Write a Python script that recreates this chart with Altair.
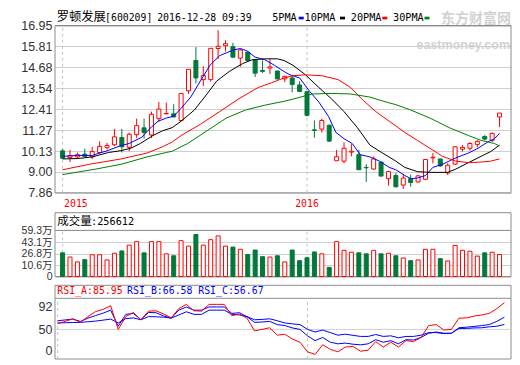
import altair as alt
import pandas as pd

# ---------------- data ----------------
stock_name = "罗顿发展"
stock_code = "[600209]"
stock_time = "2016-12-28 09:39"

opens = [10.14, 9.77, 9.81, 9.96, 9.81, 10.05, 10.31, 10.47, 10.86, 10.33,
         11.02, 11.39, 11.00, 11.89, 12.15, 12.15, 11.79, 13.40, 15.05, 14.01,
         14.01, 15.70, 15.85, 15.80, 15.18, 15.50, 15.09, 14.51, 14.64, 14.48,
         14.05, 14.10, 13.72, 13.35, 11.28, 11.32, 11.53, 9.60, 9.58, 10.07,
         9.93, 9.24, 9.15, 9.53, 8.63, 8.80, 8.28, 8.63, 8.45, 8.59,
         9.76, 9.70, 8.94, 9.42, 10.23, 10.28, 10.49, 10.92, 10.71, 11.98]
highs = [10.24, 10.19, 10.05, 10.26, 10.36, 10.66, 10.57, 11.33, 11.33, 11.13,
         11.89, 11.89, 12.27, 12.79, 12.76, 12.67, 13.26, 14.57, 15.78, 14.74,
         15.71, 16.70, 16.15, 16.01, 15.70, 15.54, 15.09, 15.05, 15.12, 14.48,
         14.22, 14.27, 13.93, 13.40, 11.79, 11.89, 11.58, 10.19, 10.61, 10.50,
         10.19, 9.42, 9.84, 9.53, 9.06, 8.94, 8.89, 8.85, 8.83, 9.67,
         10.02, 9.70, 9.46, 10.39, 10.45, 10.62, 10.71, 10.99, 11.14, 12.19]
lows = [9.70, 9.53, 9.70, 9.79, 9.70, 10.00, 10.22, 10.40, 10.05, 10.12,
        10.85, 10.80, 10.83, 11.72, 12.13, 11.98, 11.79, 13.23, 13.80, 13.66,
        13.90, 15.14, 15.54, 15.19, 14.71, 14.97, 14.15, 14.36, 14.32, 14.01,
        13.87, 13.32, 13.32, 12.01, 10.85, 11.13, 10.62, 9.60, 9.46, 9.84,
        9.11, 8.45, 9.11, 8.75, 8.25, 8.14, 8.07, 8.19, 8.42, 8.55,
        9.46, 9.27, 8.83, 9.37, 10.10, 10.15, 10.33, 10.71, 10.62, 11.44]
closes = [9.74, 9.88, 9.93, 9.84, 10.10, 10.38, 10.43, 10.90, 10.36, 11.04,
          11.51, 11.14, 12.13, 12.41, 12.17, 11.98, 13.26, 14.57, 14.10, 14.24,
          15.71, 15.82, 15.96, 15.23, 15.62, 15.05, 14.36, 14.46, 14.70, 14.05,
          14.19, 13.75, 13.37, 12.07, 11.25, 11.79, 10.67, 9.82, 10.28, 10.12,
          9.11, 9.22, 9.70, 8.77, 9.01, 8.19, 8.66, 8.42, 8.78, 9.67,
          9.79, 9.32, 9.36, 10.36, 10.33, 10.54, 10.66, 10.78, 11.09, 12.19]

# volume in 万 (10k shares)
volumes = [28.1, 22.2, 15.5, 18.6, 25.4, 25.4, 18.2, 27.5, 30.7, 38.8,
           43.7, 28.1, 43.7, 43.7, 26.7, 24.0, 45.0, 37.4, 53.6, 38.8,
           46.4, 51.7, 37.4, 36.1, 33.0, 25.8, 32.0, 22.7, 22.2, 24.0,
           15.5, 32.0, 17.2, 21.3, 29.3, 26.7, 7.9, 43.7, 31.6, 28.9,
           28.1, 26.7, 31.6, 26.7, 27.5, 24.0, 20.9, 17.2, 18.2, 33.0,
           33.0, 20.0, 16.8, 38.3, 31.6, 30.3, 23.5, 28.1, 28.9, 25.66]
vol_latest = 256612

ma_names = ["5PMA", "10PMA", "20PMA", "30PMA"]
ma5_x = [0, 2, 4, 5, 6, 7.7, 9, 10.7, 12, 12.9, 14, 15, 16, 17.3, 18.6, 19.9, 21.2, 23,
         24, 24.9, 26, 27.3, 28.6, 29.9, 30.7, 32, 33.3, 34.6, 35.9, 36.9, 38, 39.1,
         40.2, 41.5, 42.8, 44.1, 45, 46.2, 47, 47.9, 49, 50, 51.3, 53.1, 54.8, 56.1,
         57.4, 58.3, 59]
ma5_y = [9.84, 9.89, 9.89, 10.02, 10.14, 10.40, 10.54, 10.88, 11.44, 11.75, 11.92, 12.02,
         12.45, 13.06, 13.93, 14.79, 15.31, 15.61, 15.70, 15.57, 15.23, 15.09, 14.79,
         14.45, 14.27, 14.10, 13.40, 12.79, 12.01, 11.14, 10.80, 10.54, 9.93, 9.81,
         9.58, 9.24, 9.11, 8.80, 8.63, 8.66, 8.80, 9.24, 9.41, 9.76, 10.02, 10.28,
         10.62, 10.80, 11.09]
ma10_x = [0, 2, 4, 6.2, 7.9, 9.2, 10.5, 12.2, 13.5, 14.8, 16, 17.8, 19.5, 20.8, 22.5,
          24.3, 25.6, 27.3, 29, 29.9, 31.1, 32.8, 34.6, 36.3, 38, 39.8, 41.5, 43.2,
          45, 46.2, 47.9, 49.6, 52, 53.1, 54.8, 56.5, 57.8, 59]
ma10_y = [9.70, 9.72, 9.81, 10.05, 10.15, 10.28, 10.54, 10.97, 11.23, 11.40, 11.75,
          12.36, 13.23, 13.93, 14.45, 14.88, 15.09, 15.14, 15.14, 15.05, 14.79, 14.27,
          13.58, 12.97, 12.27, 11.40, 10.45, 10.02, 9.58, 9.24, 9.01, 8.97, 8.97,
          9.15, 9.50, 9.84, 10.10, 10.45]
ma20_x = [0, 3.6, 7.9, 11.4, 13.5, 14.8, 16, 18.6, 21.2, 23.8, 26.4, 28.2, 29.9, 31.1,
          32.8, 35, 37.2, 38.9, 40.6, 42.3, 44.1, 45, 46.2, 47.9, 49.6, 51.3, 53.1,
          54.8, 56.5, 57.8, 59]
ma20_y = [9.11, 9.41, 9.70, 10.02, 10.36, 10.62, 10.97, 11.58, 12.27, 12.97, 13.58,
          13.84, 14.10, 14.22, 14.27, 14.22, 14.01, 13.58, 12.88, 12.27, 11.75, 11.49,
          11.14, 10.71, 10.28, 9.84, 9.58, 9.50, 9.53, 9.58, 9.70]
ma30_x = [0, 4.5, 7.9, 11.4, 14, 14.8, 16.9, 19.5, 22.1, 24.7, 27.3, 29.9, 31.1, 33.7,
          36.3, 38.9, 41.5, 43.7, 45, 47, 49.6, 52.2, 54.8, 56.5, 58.3, 59]
ma30_y = [8.85, 9.15, 9.41, 9.81, 10.05, 10.12, 10.54, 11.23, 11.92, 12.36, 12.62,
          12.83, 12.95, 13.23, 13.26, 13.23, 13.06, 12.79, 12.65, 12.36, 11.92, 11.40,
          10.97, 10.71, 10.54, 10.40]

rsi_names = ["RSI_A", "RSI_B", "RSI_C"]
rsi_latest = [85.95, 66.58, 56.67]
rsi_a = [57.8, 60.8, 64.3, 59.5, 67.3, 74.0, 77.0, 82.0, 50.0, 67.3,
         72.9, 63.0, 74.7, 75.1, 70.8, 65.6, 78.1, 83.8, 75.1, 74.7,
         83.8, 83.8, 83.8, 68.5, 70.8, 65.2, 48.0, 50.0, 52.2, 42.2,
         43.5, 37.0, 32.7, 19.7, 16.2, 29.2, 23.2, 19.7, 26.2, 27.0,
         20.6, 21.9, 33.5, 26.2, 32.7, 26.2, 34.8, 33.5, 39.2, 55.2,
         56.5, 49.1, 50.0, 65.2, 65.5, 68.0, 69.5, 71.6, 78.1, 85.95]
rsi_b = [61.7, 62.8, 63.9, 60.8, 65.2, 68.6, 72.0, 76.0, 54.3, 70.3,
         71.6, 63.0, 72.9, 72.5, 68.2, 65.2, 76.0, 80.3, 76.0, 76.0,
         80.3, 80.3, 80.3, 71.6, 72.5, 67.3, 59.5, 60.0, 60.8, 56.5,
         55.2, 52.0, 50.0, 41.3, 34.8, 39.2, 32.7, 30.5, 31.5, 30.0,
         29.2, 30.5, 36.1, 32.7, 34.8, 30.5, 36.1, 35.7, 39.2, 44.8,
         46.5, 44.8, 44.8, 52.2, 53.0, 54.0, 55.2, 56.5, 60.8, 66.58]
rsi_c = [58.7, 59.0, 59.3, 59.5, 60.3, 61.2, 62.5, 63.9, 58.7, 64.5,
         65.5, 63.0, 67.3, 67.0, 66.5, 65.2, 69.5, 73.8, 70.3, 70.3,
         76.0, 76.0, 76.0, 70.5, 69.5, 67.3, 63.0, 63.5, 64.3, 61.7,
         58.7, 57.5, 56.5, 50.0, 46.5, 49.1, 45.7, 42.2, 43.5, 42.0,
         40.5, 40.5, 43.1, 40.5, 41.3, 38.7, 40.5, 40.5, 42.2, 45.7,
         45.7, 44.4, 44.8, 51.3, 51.3, 52.0, 52.2, 53.5, 54.3, 56.67]

price_ticks = [7.86, 9.00, 10.13, 11.27, 12.41, 13.54, 14.68, 15.81, 16.95]
vol_ticks = [10.6, 26.8, 43.1, 59.3]
vol_floor = -4.85          # value at the bottom edge of the volume panel (labelled "0")
rsi_mid, rsi_top = 50, 92
years = ["2015", "2016"]
year_start = [0, 33]

# ---------------- styling / layout ----------------
RED, GREEN, BLUE = "#ff0000", "#03783b", "#0000ff"
MA_COLORS = ["#0000ff", "#000000", "#ff0000", "#008000"]
BORDER, GRID, DASH = "#8c8c8c", "#cfcfcf", "#c4c4c4"
LAB_FONT = "Liberation Sans, Noto Sans CJK SC"
CJK = "Noto Sans CJK SC"
MONO = "DejaVu Sans Mono"
W, AXW = 456, 47
xs = alt.Scale(domain=[-0.35, 59.87], nice=False, zero=False)
N = len(closes)


def yaxis(values, fmt=None, expr=None, grid=True, size=12.5):
    kw = dict(values=values, title=None, grid=grid, gridColor=GRID, gridWidth=1,
              domain=False, ticks=False, tickSize=0, labelPadding=3, labelFont=LAB_FONT,
              labelFontSize=size, labelColor="#333333", labelOverlap=False,
              minExtent=AXW, maxExtent=AXW)
    if fmt:
        kw["format"] = fmt
    if expr:
        kw["labelExpr"] = expr
    return alt.Axis(**kw)


def txt(text, x, y, size, font, color="#000000", align="left", baseline="alphabetic", bold=False):
    m = dict(align=align, baseline=baseline, fontSize=size, font=font, color=color)
    if bold:
        m["fontWeight"] = "bold"
    return alt.Chart(pd.DataFrame({"t": [text]})).mark_text(**m).encode(
        x=alt.value(x), y=alt.value(y), text="t:N")


up_fill = alt.when(alt.datum.d == "up").then(alt.value("#ffffff")).otherwise(alt.value(GREEN))
up_stroke = alt.when(alt.datum.d == "up").then(alt.value(RED)).otherwise(alt.value(GREEN))

cdf = pd.DataFrame({"i": list(range(N)), "o": opens, "h": highs, "l": lows, "c": closes,
                    "v": volumes})
cdf["d"] = ["up" if c >= o else "down" for o, c in zip(opens, closes)]
X = alt.X("i:Q", scale=xs, axis=None)

# ---------------- panel A : price ----------------
HA, A_TOP, A_BOT = 201, 17.5, 184.8
pA = (A_BOT - A_TOP) / (price_ticks[-1] - price_ticks[0])
ysA = alt.Scale(domain=[price_ticks[0] - (HA - A_BOT) / pA, price_ticks[-1] + A_TOP / pA],
                nice=False, zero=False)
axA = yaxis(price_ticks, fmt=".2f")

boxA = alt.Chart(pd.DataFrame({"lo": [price_ticks[0]], "hi": [price_ticks[-1]]})).mark_rect(
    fill="#ffffff", fillOpacity=0, stroke=BORDER, strokeWidth=1).encode(
    x=alt.value(0), x2=alt.value(W), y=alt.Y("lo:Q", scale=ysA, axis=axA), y2="hi:Q")
dashA = alt.Chart(pd.DataFrame({"i": year_start, "lo": price_ticks[0], "hi": price_ticks[-1]})
                  ).mark_rule(color=DASH, strokeDash=[3, 3]).encode(
    x=X, y=alt.Y("lo:Q", scale=ysA, axis=axA), y2="hi:Q")
wick = alt.Chart(cdf).mark_rule(strokeWidth=1).encode(
    x=X, y=alt.Y("l:Q", scale=ysA, axis=axA), y2="h:Q", color=up_stroke)
body = alt.Chart(cdf).mark_bar(size=4, strokeWidth=1).encode(
    x=X, y=alt.Y("o:Q", scale=ysA, axis=axA), y2="c:Q", fill=up_fill, stroke=up_stroke)

ma_rows = []
for name, xx, yy in zip(ma_names, [ma5_x, ma10_x, ma20_x, ma30_x], [ma5_y, ma10_y, ma20_y, ma30_y]):
    for a, b in zip(xx, yy):
        ma_rows.append({"x": a, "v": b, "s": name})
mas = alt.Chart(pd.DataFrame(ma_rows)).mark_line(strokeWidth=1).encode(
    x=alt.X("x:Q", scale=xs, axis=None), y=alt.Y("v:Q", scale=ysA, axis=axA),
    color=alt.Color("s:N", scale=alt.Scale(domain=ma_names, range=MA_COLORS), legend=None))

wm1 = txt("东方财富网", 386, 14.5, 14, CJK, color="#d2d2d2", bold=True)
wm2 = txt("eastmoney.com", 361.5, 40.5, 12.5, "Liberation Sans", color="#d2d2d2", bold=True)

TY = 12.6
t1 = txt(stock_name, 1.7, TY + 0.2, 12.3, CJK)
t2 = txt(stock_code, 50.1, TY, 9.8, MONO)
t3 = txt(stock_time, 102.2, TY, 9.8, MONO)

leg = []
leg_text_x = [217.2, 249.6, 295.8, 338.0]
leg_sw_x = [243.7, 285.0, 327.3, 369.5]
for name, col, tx, sx in zip(ma_names, MA_COLORS, leg_text_x, leg_sw_x):
    leg.append(txt(name, tx, TY, 10.2, MONO))
    leg.append(alt.Chart(pd.DataFrame({"s": [name]})).mark_rect(color=col).encode(
        x=alt.value(sx), x2=alt.value(sx + 5), y=alt.value(TY - 3.9), y2=alt.value(TY - 1.2)))

ydf = pd.DataFrame({"i": year_start, "t": years})
y15 = alt.Chart(ydf.iloc[[0]]).mark_text(align="left", baseline="middle", dx=1.5, fontSize=9.8,
                                          font=MONO, color=RED).encode(x=X, y=alt.value(196.4), text="t:N")
y16 = alt.Chart(ydf.iloc[[1]]).mark_text(align="center", baseline="middle", fontSize=9.8,
                                          font=MONO, color=RED).encode(x=X, y=alt.value(196.4), text="t:N")

panelA = alt.layer(wm1, wm2, boxA, dashA, wick, body, mas, t1, t2, t3, *leg, y15, y16
                   ).properties(width=W, height=HA)

# ---------------- panel B : volume ----------------
HB, B_HEAD, B_DIV, B_BOT = 70, 2.7, 20.4, 66.5
pB = (B_BOT - B_DIV) / (vol_ticks[-1] - vol_floor)
ysB = alt.Scale(domain=[vol_floor - (HB - B_BOT) / pB, vol_ticks[-1] + B_DIV / pB],
                nice=False, zero=False)
axB = yaxis([vol_floor] + vol_ticks, fmt=".1f", size=10.5,
            expr="datum.value < 0 ? '0' : datum.label + '万'")
head_B = vol_ticks[-1] + (B_DIV - B_HEAD) / pB

boxB = alt.Chart(pd.DataFrame({"lo": [vol_floor], "hi": [head_B]})).mark_rect(
    fill="#ffffff", fillOpacity=0, stroke=BORDER, strokeWidth=1).encode(
    x=alt.value(0), x2=alt.value(W), y=alt.Y("lo:Q", scale=ysB, axis=axB), y2="hi:Q")
divB = alt.Chart(pd.DataFrame({"y": [vol_ticks[-1]]})).mark_rule(color=BORDER).encode(
    x=alt.value(0), x2=alt.value(W), y=alt.Y("y:Q", scale=ysB, axis=axB))
dashB = alt.Chart(pd.DataFrame({"i": year_start, "lo": vol_floor, "hi": vol_ticks[-1]})).mark_rule(
    color=DASH, strokeDash=[3, 3]).encode(x=X, y=alt.Y("lo:Q", scale=ysB, axis=axB), y2="hi:Q")
vbars = alt.Chart(cdf).mark_bar(size=4, strokeWidth=1).encode(
    x=X, y=alt.Y("v:Q", scale=ysB, axis=axB), y2=alt.datum(vol_floor), fill=up_fill, stroke=up_stroke)
hb1 = txt("成交量", 2.3, 15.2, 11.5, CJK)
hb2 = txt(":" + str(vol_latest), 36.1, 14.8, 10.2, MONO)
panelB = alt.layer(boxB, divB, dashB, vbars, hb1, hb2).properties(width=W, height=HB)

# ---------------- panel C : RSI ----------------
HC, C_HEAD, C_DIV, C_MID, C_BOT = 78, 3.3, 16.3, 47.4, 77.0
pC = (C_MID - C_DIV) / (rsi_top - rsi_mid)
ysC = alt.Scale(domain=[rsi_mid - (HC - C_MID) / pC, rsi_top + C_DIV / pC], nice=False, zero=False)
lab0 = rsi_mid - (68.3 - C_MID) / pC
lab92 = rsi_mid + (C_MID - 24.0) / pC
axC = yaxis([lab0, rsi_mid, lab92], grid=False,
            expr="datum.value < 30 ? '0' : (datum.value > 70 ? '92' : '50')")
bot_C = rsi_mid - (C_BOT - C_MID) / pC
head_C = rsi_top + (C_DIV - C_HEAD) / pC

boxC = alt.Chart(pd.DataFrame({"lo": [bot_C], "hi": [head_C]})).mark_rect(
    fill="#ffffff", fillOpacity=0, stroke=BORDER, strokeWidth=1).encode(
    x=alt.value(0), x2=alt.value(W), y=alt.Y("lo:Q", scale=ysC, axis=axC), y2="hi:Q")
divC = alt.Chart(pd.DataFrame({"y": [rsi_top]})).mark_rule(color=BORDER).encode(
    x=alt.value(0), x2=alt.value(W), y=alt.Y("y:Q", scale=ysC, axis=axC))
gridC = alt.Chart(pd.DataFrame({"y": [rsi_mid]})).mark_rule(color=GRID).encode(
    x=alt.value(0), x2=alt.value(W), y=alt.Y("y:Q", scale=ysC, axis=axC))
dashC = alt.Chart(pd.DataFrame({"i": year_start, "lo": bot_C, "hi": rsi_top})).mark_rule(
    color=DASH, strokeDash=[3, 3]).encode(x=X, y=alt.Y("lo:Q", scale=ysC, axis=axC), y2="hi:Q")

rsi_rows = []
for name, vals in zip(rsi_names, [rsi_a, rsi_b, rsi_c]):
    for k, v in enumerate(vals):
        rsi_rows.append({"i": k, "v": v, "s": name})
rdf = pd.DataFrame(rsi_rows)
rsi_blue = alt.Chart(rdf[rdf.s != "RSI_A"]).mark_line(strokeWidth=1, color=BLUE).encode(
    x=X, y=alt.Y("v:Q", scale=ysC, axis=axC), detail="s:N")
rsi_red = alt.Chart(rdf[rdf.s == "RSI_A"]).mark_line(strokeWidth=1, color=RED).encode(
    x=X, y=alt.Y("v:Q", scale=ysC, axis=axC))
hc = [txt(f"{n}:{v:.2f}", x, 12.4, 9.9, MONO, color=c)
      for n, v, x, c in zip(rsi_names, rsi_latest, [2.3, 72.1, 143.2], [RED, BLUE, BLUE])]
panelC = alt.layer(boxC, gridC, divC, dashC, rsi_blue, rsi_red, *hc).properties(width=W, height=HC)

chart = alt.vconcat(panelA, panelB, panelC, spacing=0).properties(
    padding=0, background="#ffffff").configure_view(strokeWidth=0)

chart.save("out.html", embed_options={"renderer": "svg", "actions": False})
